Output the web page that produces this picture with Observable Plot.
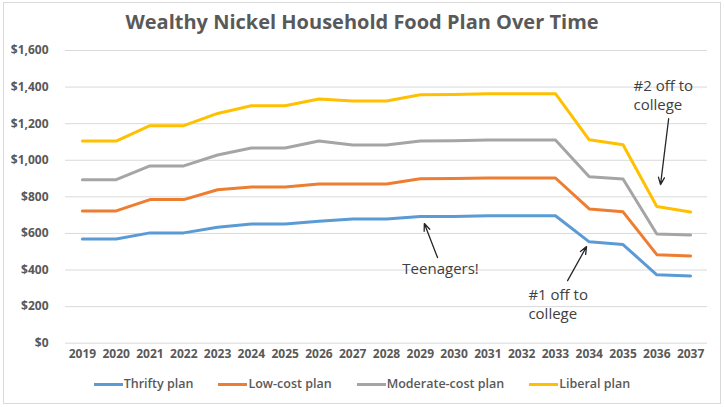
<!DOCTYPE html>
<html><head><meta charset="utf-8">
<script src="https://cdn.jsdelivr.net/npm/d3@7"></script>
<script src="https://cdn.jsdelivr.net/npm/@observablehq/plot@0.6"></script>
<style>
body{margin:0;background:#fff;font-family:"Open Sans",sans-serif;}
#frame{position:absolute;left:3px;top:2px;width:718px;height:402px;border:1px solid #d9d9d9;box-sizing:border-box}
#title{position:absolute;left:0;top:9px;width:724px;text-align:center;font-weight:700;font-size:20px;color:#595959;line-height:26px}
#chart{position:absolute;left:0;top:35px}
#legend{position:absolute;left:0;top:375px;width:724px;display:flex;justify-content:center;gap:25px;font-size:12.5px;font-weight:600;color:#595959;line-height:18px}
.item{display:flex;align-items:center}
.sw{display:inline-block;width:29px;height:3px;margin-right:1px}
</style>
</head><body>
<div id="frame"></div>
<div id="title">Wealthy Nickel Household Food Plan Over Time</div>
<div id="chart"></div>
<div id="legend"></div>
<script>
const years = [2019,2020,2021,2022,2023,2024,2025,2026,2027,2028,2029,2030,2031,2032,2033,2034,2035,2036,2037];
const thrifty  = [570,570,603,603,634,652,652,666,679,679,692,692,697,697,697,554,539,374,368];
const lowCost  = [723,723,785,785,839,854,854,870,870,870,899,900,903,903,903,734,718,484,477];
const moderate = [894,894,969,969,1029,1067,1067,1105,1083,1083,1105,1107,1111,1111,1111,910,898,597,592];
const liberal  = [1105,1105,1189,1189,1256,1298,1298,1335,1324,1324,1358,1360,1364,1364,1364,1112,1085,747,717];
const seriesNames = ["Thrifty plan","Low-cost plan","Moderate-cost plan","Liberal plan"];
const seriesColors = ["#5B9BD5","#ED7D31","#A5A5A5","#FFC000"];
const yTicks = [0,200,400,600,800,1000,1200,1400,1600];

// annotations
const noteTexts = ["Teenagers!","#1 off to\ncollege","#2 off to\ncollege"];
const noteX = [2029.6, 2032.2, 2035.31];
const noteY = [413, 217, 1358];
const noteAnchor = ["middle","start","start"];
const arrowX1 = [2029.51, 2033.36, 2036.35];
const arrowY1 = [468, 342, 1227];
const arrowX2 = [2029.12, 2033.92, 2036.11];
const arrowY2 = [654, 528, 867];

const allSeries = [thrifty, lowCost, moderate, liberal];
const rows = [];
allSeries.forEach((vals, s) => vals.forEach((v, i) => rows.push({year: years[i], value: v, series: seriesNames[s]})));
const notes = noteTexts.map((t, i) => ({text: t, x: noteX[i], y: noteY[i], anchor: noteAnchor[i]}));
const arrows = arrowX1.map((x, i) => ({x1: x, y1: arrowY1[i], x2: arrowX2[i], y2: arrowY2[i]}));

const noteStyle = {x: "x", y: "y", text: "text", fontSize: 15, fill: "#404040", lineHeight: 1.22};

const chart = Plot.plot({
  width: 724,
  height: 330,
  marginLeft: 65,
  marginRight: 17,
  marginTop: 15,
  marginBottom: 22.3,
  style: {fontFamily: "'Open Sans', sans-serif", background: "transparent"},
  x: {domain: [2018.5, 2037.5], ticks: years, tickFormat: d => String(d), tickSize: 0, tickPadding: 6, label: null},
  y: {domain: [0, 1600], ticks: yTicks, tickFormat: d => "$" + d3.format(",")(d), tickSize: 0, tickPadding: 17, label: null},
  color: {domain: seriesNames, range: seriesColors},
  marks: [
    Plot.ruleY(yTicks, {stroke: "#d9d9d9", strokeWidth: 1}),
    Plot.axisX({ticks: years, tickFormat: d => String(d), tickSize: 0, tickPadding: 6, fontSize: 12, fontWeight: 700, fill: "#595959", label: null}),
    Plot.axisY({ticks: yTicks, tickFormat: d => "$" + d3.format(",")(d), tickSize: 0, tickPadding: 17, fontSize: 12, fontWeight: 700, fill: "#595959", label: null}),
    Plot.line(rows, {x: "year", y: "value", z: "series", stroke: "series", strokeWidth: 3, strokeLinejoin: "round", strokeLinecap: "round"}),
    Plot.arrow(arrows, {x1: "x1", y1: "y1", x2: "x2", y2: "y2", stroke: "#262626", strokeWidth: 1.3, headLength: 9, headAngle: 45}),
    Plot.text(notes.filter(d => d.anchor === "middle"), {...noteStyle, textAnchor: "middle"}),
    Plot.text(notes.filter(d => d.anchor === "start"), {...noteStyle, textAnchor: "start"})
  ]
});
document.getElementById("chart").appendChild(chart);

const legend = document.getElementById("legend");
seriesNames.forEach((n, i) => {
  const it = document.createElement("div");
  it.className = "item";
  it.innerHTML = `<span class="sw" style="background:${seriesColors[i]}"></span><span>${n}</span>`;
  legend.appendChild(it);
});
</script>
</body></html>
